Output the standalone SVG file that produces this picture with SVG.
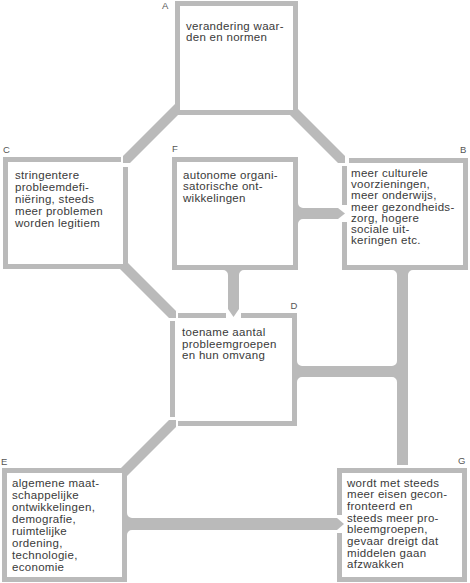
<svg xmlns="http://www.w3.org/2000/svg" xmlns:xlink="http://www.w3.org/1999/xlink" width="470" height="583" viewBox="0 0 470 583">
<style>
.c{fill:#bababa}
.b{fill:none;stroke:#bababa;stroke-width:5;stroke-linecap:butt;stroke-linejoin:miter}
.t{font-family:"Liberation Sans",Arial,sans-serif;font-size:11.5px;fill:#3a3a3a;letter-spacing:0.3px}
.l{font-family:"Liberation Sans",Arial,sans-serif;font-size:9.5px;fill:#555}
</style>
<defs>
<path id="fil" d="M0,-5 L0,0 L5,0 A5,5 0 0 1 0,-5 Z"/>
</defs>
<rect width="470" height="583" fill="#fff"/>

<g id="connectors" class="c">
  <!-- A -> C diagonal -->
  <polygon points="175,104 123,156 123,163 130,163 178,115 175,115"/>
  <!-- A -> B diagonal -->
  <polygon points="298,109 345,156 345,163 338,163 290,115 298,115"/>
  <!-- C -> D diagonal -->
  <polygon points="128,263 176,311 176,318 169,318 120,269 128,269"/>
  <!-- E -> D diagonal -->
  <polygon points="121,468 169,420 176,420 176,427 127,476 127,468"/>
  <!-- F -> B arrow -->
  <polygon points="296,208 338,208 345,213.5 338,219 296,219"/>
  <use xlink:href="#fil" href="#fil" transform="translate(298,208)"/>
  <use xlink:href="#fil" href="#fil" transform="translate(298,219) scale(1,-1)"/>
  <!-- F -> D arrow -->
  <polygon points="228,268 239,268 239,309 233.5,317 228,309"/>
  <use xlink:href="#fil" href="#fil" transform="translate(228,270) scale(-1,-1)"/>
  <use xlink:href="#fil" href="#fil" transform="translate(239,270) scale(1,-1)"/>
  <!-- B -> G vertical -->
  <rect x="397" y="268" width="11" height="197"/>
  <use xlink:href="#fil" href="#fil" transform="translate(397,270) scale(-1,-1)"/>
  <use xlink:href="#fil" href="#fil" transform="translate(408,270) scale(1,-1)"/>
  <!-- D -> vertical line -->
  <rect x="295" y="366" width="105" height="11"/>
  <use xlink:href="#fil" href="#fil" transform="translate(297,366)"/>
  <use xlink:href="#fil" href="#fil" transform="translate(297,377) scale(1,-1)"/>
  <use xlink:href="#fil" href="#fil" transform="translate(397,366) scale(-1,1)"/>
  <use xlink:href="#fil" href="#fil" transform="translate(397,377) scale(-1,-1)"/>
  <!-- E -> G arrow -->
  <polygon points="125,518 337,518 344,524 337,530 125,530"/>
  <use xlink:href="#fil" href="#fil" transform="translate(127,518)"/>
  <use xlink:href="#fil" href="#fil" transform="translate(127,530) scale(1,-1)"/>
</g>

<g id="node-A">
  <rect class="b" x="177.5" y="3.5" width="118" height="109"/>
  <text class="l" x="162" y="9">A</text>
  <text class="t"><tspan x="186" y="29.5">verandering waar-</tspan><tspan x="186" y="41">den en normen</tspan></text>
</g>

<g id="node-C">
  <path class="b" d="M121,159.5 H5.5 V266.5 H125.5 V167"/>
  <text class="l" x="3" y="153">C</text>
  <text class="t"><tspan x="15" y="179">stringentere</tspan><tspan x="15" y="191">probleemdefi-</tspan><tspan x="15" y="203">niëring, steeds</tspan><tspan x="15" y="215">meer problemen</tspan><tspan x="15" y="227">worden legitiem</tspan></text>
</g>

<g id="node-F">
  <rect class="b" x="174.5" y="159.5" width="121" height="108"/>
  <text class="l" x="172" y="152">F</text>
  <text class="t"><tspan x="183" y="178.5">autonome organi-</tspan><tspan x="183" y="190.2">satorische ont-</tspan><tspan x="183" y="201.9">wikkelingen</tspan></text>
</g>

<g id="node-B">
  <path class="b" d="M349,160.5 H465.5 V267.5 H344.5 V222 M344.5,205 V166"/>
  <text class="l" x="460" y="152.5">B</text>
  <text class="t"><tspan x="351" y="177">meer culturele</tspan><tspan x="351" y="188.2">voorzieningen,</tspan><tspan x="351" y="199.4">meer onderwijs,</tspan><tspan x="351" y="210.6">meer gezondheids-</tspan><tspan x="351" y="221.8">zorg, hogere</tspan><tspan x="351" y="233">sociale uit-</tspan><tspan x="351" y="244.2">keringen etc.</tspan></text>
</g>

<g id="node-D">
  <path class="b" d="M178,315.5 H226 M241,315.5 H294.5 V423.5 H178 M172.5,417 V321"/>
  <text class="l" x="290.5" y="308.5">D</text>
  <text class="t"><tspan x="182" y="336">toename aantal</tspan><tspan x="182" y="347.5">probleemgroepen</tspan><tspan x="182" y="359">en hun omvang</tspan></text>
</g>

<g id="node-E">
  <rect class="b" x="4.5" y="470.5" width="120" height="109"/>
  <text class="l" x="1" y="465">E</text>
  <text class="t"><tspan x="12" y="487.3">algemene maat-</tspan><tspan x="12" y="499.2">schappelijke</tspan><tspan x="12" y="511.1">ontwikkelingen,</tspan><tspan x="12" y="523">demografie,</tspan><tspan x="12" y="534.9">ruimtelijke</tspan><tspan x="12" y="546.8">ordening,</tspan><tspan x="12" y="558.7">technologie,</tspan><tspan x="12" y="570.6">economie</tspan></text>
</g>

<g id="node-G">
  <path class="b" d="M339.5,515 V470.5 H464.5 V579.5 H339.5 V533"/>
  <text class="l" x="458" y="463.5">G</text>
  <text class="t"><tspan x="347" y="486.7">wordt met steeds</tspan><tspan x="347" y="498.4">meer eisen gecon-</tspan><tspan x="347" y="510">fronteerd en</tspan><tspan x="347" y="521.7">steeds meer pro-</tspan><tspan x="347" y="533.4">bleemgroepen,</tspan><tspan x="347" y="545">gevaar dreigt dat</tspan><tspan x="347" y="556.7">middelen gaan</tspan><tspan x="347" y="568.4">afzwakken</tspan></text>
</g>
</svg>
